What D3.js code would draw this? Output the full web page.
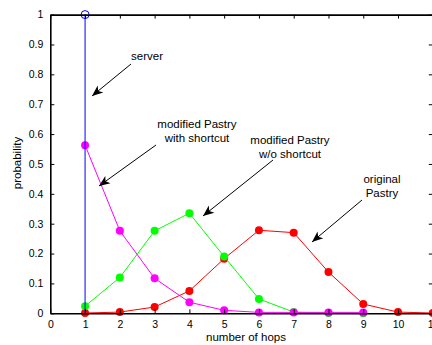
<!DOCTYPE html>
<html>
<head>
<meta charset="utf-8">
<script src="https://cdn.jsdelivr.net/npm/d3@7"></script>
<style>
  html, body { margin: 0; padding: 0; background: #fff; }
  svg { display: block; font-family: "Liberation Sans", Arial, Helvetica, sans-serif; }
</style>
</head>
<body>
<svg id="chart" width="432" height="345"></svg>
<script>
// Hop-count distributions for lookup routing
const xTicks = [0, 1, 2, 3, 4, 5, 6, 7, 8, 9, 10, 11];
const yTicks = [0, 0.1, 0.2, 0.3, 0.4, 0.5, 0.6, 0.7, 0.8, 0.9, 1];

const serverHops = 1;
const serverProb = 1;

const shortcutHops = [1, 2, 3, 4, 5, 6, 7, 8, 9];
const shortcutProb = [0.563, 0.276, 0.117, 0.037, 0.01, 0.003, 0.003, 0.003, 0.003];

const noShortcutHops = [1, 2, 3, 4, 5, 6, 7, 8, 9];
const noShortcutProb = [0.024, 0.12, 0.276, 0.335, 0.19, 0.048, 0.004, 0.001, 0.0];

const originalHops = [1, 2, 3, 4, 5, 6, 7, 8, 9, 10, 11];
const originalProb = [0.001, 0.004, 0.021, 0.075, 0.183, 0.278, 0.27, 0.138, 0.031, 0.004, 0.001];

const svg = d3.select("#chart");
const margin = { left: 50.3, top: 14.6, right: -0.8, bottom: 31.7 };
const W = 432, H = 345;

const x = d3.scaleLinear().domain([0, 11]).range([margin.left, W - margin.right]);
const y = d3.scaleLinear().domain([0, 1]).range([H - margin.bottom, margin.top]);

// Tick marks point inward on all four sides
const tickLen = 4;
const axisBottom = d3.axisBottom(x).tickValues(xTicks).tickFormat(d3.format("d")).tickSizeInner(-tickLen).tickSizeOuter(0).tickPadding(7);
const axisTop = d3.axisTop(x).tickValues(xTicks).tickFormat("").tickSizeInner(-tickLen).tickSizeOuter(0);
const axisLeft = d3.axisLeft(y).tickValues(yTicks).tickFormat(d => d === 0 || d === 1 ? d3.format("d")(d) : d3.format(".1f")(d)).tickSizeInner(-tickLen).tickSizeOuter(0).tickPadding(7);
const axisRight = d3.axisRight(y).tickValues(yTicks).tickFormat("").tickSizeInner(-tickLen).tickSizeOuter(0);

function styleAxis(g) {
  g.select(".domain").attr("stroke", "#000").attr("stroke-width", 1.6);
  g.selectAll(".tick line").attr("stroke", "#000").attr("stroke-width", 1);
  g.selectAll(".tick text").attr("font-size", 10.5).attr("fill", "#000")
    .attr("font-family", "Liberation Sans, Arial, sans-serif");
}

// Series lines and markers
const line = d3.line().x(d => x(d[0])).y(d => y(d[1]));

function drawSeries(hops, probs, color) {
  const pts = hops.map((h, i) => [h, probs[i]]);
  svg.append("path").datum(pts).attr("d", line)
    .attr("fill", "none").attr("stroke", color).attr("stroke-width", 1);
  svg.append("g").selectAll("circle").data(pts).join("circle")
    .attr("cx", d => x(d[0])).attr("cy", d => y(d[1])).attr("r", 4)
    .attr("fill", color);
}

drawSeries(originalHops, originalProb, "#ff0000");
drawSeries(noShortcutHops, noShortcutProb, "#00ff00");
drawSeries(shortcutHops, shortcutProb, "#ff00ff");

// Server: a single stem at one hop with an open circle
svg.append("line")
  .attr("x1", x(serverHops)).attr("x2", x(serverHops))
  .attr("y1", y(0)).attr("y2", y(serverProb))
  .attr("stroke", "#0000ff").attr("stroke-width", 1);
svg.append("circle")
  .attr("cx", x(serverHops)).attr("cy", y(serverProb)).attr("r", 4)
  .attr("fill", "none").attr("stroke", "#0000ff").attr("stroke-width", 1);

// Axes drawn last so the frame sits above the markers
svg.append("g").attr("transform", `translate(0,${y(0)})`).call(axisBottom).call(styleAxis);
svg.append("g").attr("transform", `translate(0,${y(1)})`).call(axisTop).call(styleAxis);
svg.append("g").attr("transform", `translate(${x(0)},0)`).call(axisLeft).call(styleAxis);
svg.append("g").attr("transform", `translate(${x(11)},0)`).call(axisRight).call(styleAxis);

// Axis titles
svg.append("text").attr("x", 246).attr("y", 341).attr("text-anchor", "middle")
  .attr("font-size", 11.5).text("number of hops");
svg.append("text").attr("transform", "translate(21,163) rotate(-90)")
  .attr("text-anchor", "middle").attr("font-size", 11.5).text("probability");

// Arrowhead
svg.append("defs").append("marker")
  .attr("id", "head").attr("viewBox", "-12 -6 14 12")
  .attr("refX", 0).attr("refY", 0)
  .attr("markerWidth", 14).attr("markerHeight", 12)
  .attr("markerUnits", "userSpaceOnUse")
  .attr("orient", "auto")
  .append("path").attr("d", "M0,0 L-11,-4.5 L-8,0 L-11,4.5 Z").attr("fill", "#000");

// Callouts: text lines and arrow from (x1,y1) to the tip (x2,y2)
const callouts = [
  { lines: ["server"], cx: 147, y0: 60, x1: 131, y1: 64, x2: 92, y2: 96 },
  { lines: ["modified Pastry", "with shortcut"], cx: 197, y0: 128, x1: 156, y1: 145, x2: 99, y2: 186 },
  { lines: ["modified Pastry", "w/o shortcut"], cx: 290, y0: 144, x1: 273, y1: 160, x2: 203, y2: 216 },
  { lines: ["original", "Pastry"], cx: 382, y0: 183, x1: 362, y1: 200, x2: 312, y2: 242 }
];

callouts.forEach(c => {
  const t = svg.append("text").attr("text-anchor", "middle").attr("font-size", 11.5);
  c.lines.forEach((s, i) => t.append("tspan").attr("x", c.cx).attr("y", c.y0 + i * 14).text(s));
  svg.append("line").attr("x1", c.x1).attr("y1", c.y1).attr("x2", c.x2).attr("y2", c.y2)
    .attr("stroke", "#000").attr("stroke-width", 1).attr("marker-end", "url(#head)");
});
</script>
</body>
</html>
